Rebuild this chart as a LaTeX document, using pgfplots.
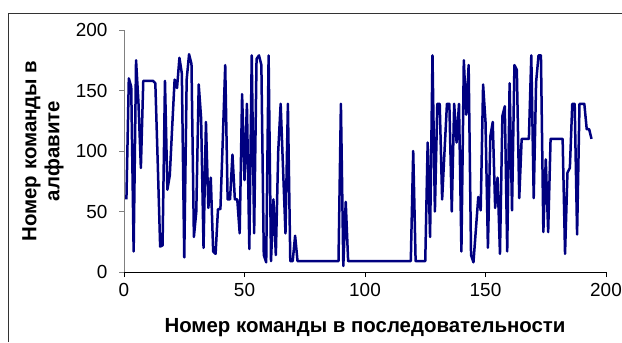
\documentclass[border=0pt]{standalone}
\usepackage{pgfplots}
\pgfplotsset{compat=1.18}
\usepackage{fontspec}
\setmainfont{Liberation Sans}
\definecolor{navyline}{RGB}{0,0,128}
\definecolor{axgray}{RGB}{128,128,128}
\begin{document}
\begin{tikzpicture}[x=1bp,y=1bp]
\useasboundingbox (0,0) rectangle (622,342);
\draw[line width=1bp, black!80] (8,0) -- (8,328) -- (623,328);
\begin{axis}[
  at={(124bp,70bp)}, anchor=south west,
  scale only axis, width=482bp, height=242bp,
  xmin=0, xmax=200, ymin=0, ymax=200,
  axis x line=bottom, axis y line=left,
  axis line style={-},
  x axis line style={black, line width=0.8bp},
  y axis line style={axgray, line width=0.8bp},
  xtick={0,50,...,200}, ytick={0,50,...,200},
  tick align=outside, major tick length=5bp,
  xtick style={black, line width=0.8bp},
  ytick style={axgray, line width=0.8bp},
  /pgf/number format/assume math mode=true,
  tick label style={font=\fontsize{19}{22}\selectfont},
  xticklabel style={yshift=-3bp},
  yticklabel style={xshift=-8bp},
  xlabel={Номер команды в последовательности},
  ylabel={Номер команды в\\алфавите},
  xlabel style={font=\fontsize{20.5}{23}\selectfont\bfseries, at={(axis description cs:0.5,0)}, anchor=center, yshift=-56bp},
  every axis y label/.style={font=\fontsize{20.5}{23}\selectfont\bfseries, align=center, at={(axis description cs:-0.168,0.5)}, anchor=center, rotate=90},
  clip=false,
]
\addplot[navyline, line width=2.5bp, line join=round] coordinates {
(1,60) (2,160) (3,153) (4,17) (5,175) (6,140) (7,86) (8,158) (9,158) (10,158)
(11,158) (12,158) (13,156) (14,90) (15,21) (16,22) (17,158) (18,68) (19,80) (20,120)
(21,159) (22,152) (23,177) (24,164) (25,12) (26,159) (27,180) (28,172) (29,29) (30,50)
(31,155) (32,127) (33,20) (34,124) (35,53) (36,78) (37,17) (38,15) (39,52) (40,52)
(41,110) (42,171) (43,60) (44,60) (45,97) (46,60) (47,60) (48,32) (49,147) (50,76)
(51,139) (52,19) (53,179) (54,32) (55,176) (56,179) (57,171) (58,14) (59,8) (60,179)
(61,9) (62,60) (63,14) (64,100) (65,139) (66,85) (67,32) (68,139) (69,9) (70,9)
(71,30) (72,9) (73,9) (74,9) (75,9) (76,9) (77,9) (78,9) (79,9) (80,9)
(81,9) (82,9) (83,9) (84,9) (85,9) (86,9) (87,9) (88,9) (89,9) (90,139)
(91,5) (92,58) (93,9) (94,9) (95,9) (96,9) (97,9) (98,9) (99,9) (100,9)
(101,9) (102,9) (103,9) (104,9) (105,9) (106,9) (107,9) (108,9) (109,9) (110,9)
(111,9) (112,9) (113,9) (114,9) (115,9) (116,9) (117,9) (118,9) (119,9) (120,100)
(121,9) (122,9) (123,9) (124,9) (125,9) (126,107) (127,29) (128,179) (129,50) (130,139)
(131,139) (132,60) (133,100) (134,139) (135,139) (136,50) (137,139) (138,107) (139,139) (140,17)
(141,175) (142,130) (143,171) (144,14) (145,8) (146,35) (147,62) (148,51) (149,155) (150,124)
(151,20) (152,112) (153,124) (154,53) (155,78) (156,15) (157,129) (158,137) (159,17) (160,156)
(161,51) (162,171) (163,167) (164,61) (165,110) (166,110) (167,110) (168,110) (169,179) (170,61)
(171,157) (172,179) (173,179) (174,33) (175,93) (176,33) (177,110) (178,110) (179,110) (180,110)
(181,110) (182,110) (183,15) (184,82) (185,86) (186,139) (187,139) (188,31) (189,139) (190,139)
(191,139) (192,118) (193,118) (194,110)
};
\end{axis}
\end{tikzpicture}
\end{document}
